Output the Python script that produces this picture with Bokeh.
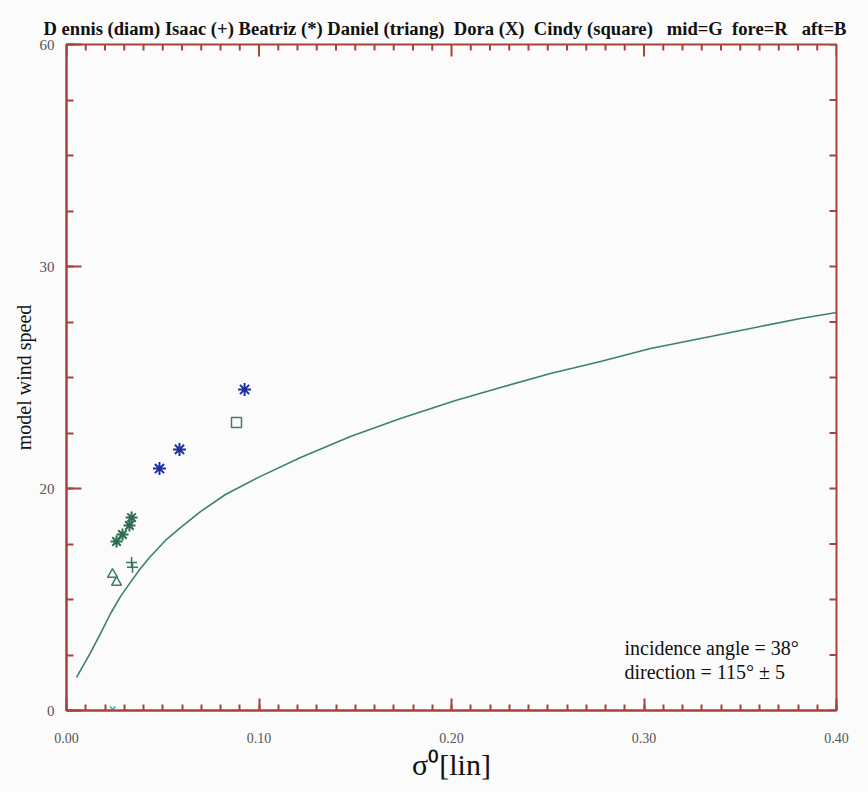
import math
from bokeh.plotting import figure
from bokeh.models import Range1d, LinearAxis, FixedTicker, Label, Title
from bokeh.embed import file_html
from bokeh.resources import INLINE

# ---- data ----
curve_x = [0.0052, 0.0125, 0.0177, 0.0229, 0.0281, 0.0332, 0.0384, 0.0436, 0.0514, 0.0592, 0.0696,
           0.0826, 0.0997, 0.1216, 0.1475, 0.1735, 0.2021, 0.2255, 0.2514, 0.2774, 0.3034, 0.3294,
           0.3553, 0.3813, 0.4000]
curve_y = [1.49, 2.61, 3.47, 4.37, 5.14, 5.77, 6.40, 6.94, 7.66, 8.24, 8.96,
           9.73, 10.50, 11.40, 12.34, 13.15, 13.96, 14.55, 15.18, 15.72, 16.31, 16.76,
           17.21, 17.66, 17.93]

beatriz_aft_x = [0.0925, 0.0587, 0.0483]
beatriz_aft_y = [14.46, 11.76, 10.9]
beatriz_mid_x = [0.0338, 0.0327, 0.0291, 0.0260]
beatriz_mid_y = [8.69, 8.33, 7.93, 7.61]
isaac_x = [0.0338, 0.0343]
isaac_y = [6.67, 6.45]
daniel_x = [0.0239, 0.0260]
daniel_y = [6.13, 5.77]
cindy_x = [0.0883]
cindy_y = [12.97]
dora_x = [0.0240]
dora_y = [0.05]

x_ticks = [0.0, 0.1, 0.2, 0.3, 0.4]
x_tick_labels = ["0.00", "0.10", "0.20", "0.30", "0.40"]
y_ticks = [0, 10, 20, 30]
y_tick_labels = ["0", "20", "30", "60"]

NB = "\u00a0"
title_parts = ["D ennis (diam)", "Isaac (+)", "Beatriz (*)", "Daniel (triang)", "Dora (X)",
               "Cindy (square)", "mid=G", "fore=R", "aft=B"]
title_gaps = [" ", " ", " ", NB + " ", NB + " ", NB * 2 + " ", NB + " ", NB * 2 + " "]
title_text = title_parts[0] + "".join(g + t for g, t in zip(title_gaps, title_parts[1:]))

AX = "#a8433b"
SERIF = "Liberation Serif"
X0, X1, Y0, Y1 = 0.0, 0.4, 0.0, 30.0

p = figure(width=868, height=792, output_backend="svg", toolbar_location=None,
           x_range=Range1d(X0, X1), y_range=Range1d(Y0, Y1),
           min_border_left=66, min_border_right=32, min_border_top=44, min_border_bottom=82,
           x_axis_location=None, y_axis_location=None)
p.title.visible = False
p.background_fill_color = "#fbfbfb"
p.border_fill_color = "#fbfbfb"
p.outline_line_color = AX
p.outline_line_width = 2
p.xgrid.visible = False
p.ygrid.visible = False

x_minor = [round(X0 + i * 0.01, 2) for i in range(41)]
y_minor = [Y0 + i * 2.5 for i in range(13)]

def style(ax):
    ax.axis_line_color = AX
    ax.axis_line_width = 2
    ax.major_tick_line_color = AX
    ax.minor_tick_line_color = AX
    ax.major_tick_line_width = 2
    ax.minor_tick_line_width = 2
    ax.major_tick_out = 0
    ax.minor_tick_out = 0

# bottom
xb = LinearAxis(ticker=FixedTicker(ticks=x_ticks, minor_ticks=x_minor))
style(xb)
xb.major_tick_in = 12
xb.minor_tick_in = 6
xb.major_label_overrides = {t: l for t, l in zip(x_ticks, x_tick_labels)}
xb.major_label_text_font = SERIF
xb.major_label_text_font_size = "14px"
xb.major_label_text_color = "#555555"
xb.major_label_standoff = 22
xb.axis_label = "σ⁰[lin]"
xb.axis_label_text_font = SERIF
xb.axis_label_text_font_size = "30px"
xb.axis_label_text_font_style = "normal"
xb.axis_label_text_color = "#111111"
xb.axis_label_standoff = 2
p.add_layout(xb, "below")

# left
yl = LinearAxis(ticker=FixedTicker(ticks=y_ticks, minor_ticks=y_minor))
style(yl)
yl.major_tick_in = 15
yl.minor_tick_in = 7
yl.major_label_overrides = {t: l for t, l in zip(y_ticks, y_tick_labels)}
yl.major_label_text_font = SERIF
yl.major_label_text_font_size = "15px"
yl.major_label_text_color = "#555555"
yl.major_label_standoff = 12
yl.axis_label = "model wind speed"
yl.axis_label_text_font = SERIF
yl.axis_label_text_font_size = "20px"
yl.axis_label_text_font_style = "normal"
yl.axis_label_text_color = "#111111"
yl.axis_label_standoff = 2
p.add_layout(yl, "left")

# top and right tick marks (inward), drawn as dash markers centred on the frame edge
top_major = [t for t in x_ticks]
top_minor = [t for t in x_minor if t not in x_ticks]
p.scatter(top_minor, [Y1] * len(top_minor), marker="dash", angle=math.pi / 2, size=12,
          line_color=AX, line_width=2)
p.scatter(top_major, [Y1] * len(top_major), marker="dash", angle=math.pi / 2, size=24,
          line_color=AX, line_width=2)
p.scatter([X1] * len(y_minor), y_minor, marker="dash", size=14, line_color=AX, line_width=2)

# curve
p.line(curve_x, curve_y, line_color="#3d7f75", line_width=1.6)

# markers
p.scatter(beatriz_aft_x, beatriz_aft_y, marker="asterisk", size=13, line_color="#1f2f9f", line_width=2)
p.scatter(beatriz_mid_x, beatriz_mid_y, marker="asterisk", size=12, line_color="#2d6b52", line_width=2)
p.scatter(isaac_x, isaac_y, marker="cross", size=11, line_color="#3a7565", line_width=1.5)
p.scatter(daniel_x, daniel_y, marker="triangle", size=10, line_color="#3f7d6a", fill_color=None, line_width=1.5)
p.scatter(cindy_x, cindy_y, marker="square", size=10, line_color="#4a7a6a", fill_color=None, line_width=1.5)
p.scatter(dora_x, dora_y, marker="x", size=8, line_color="#4aa3a3", line_width=1.5)

# title
p.add_layout(Title(text=title_text, text_font=SERIF, text_font_style="bold", text_font_size="18.6px",
                   text_color="#111111", align="left", offset=-23, standoff=11), "above")

# annotation
p.add_layout(Label(x=558, y=63, x_units="screen", y_units="screen", text="incidence angle = 38°",
                   text_font=SERIF, text_font_size="20px", text_color="#111111", text_baseline="middle"))
p.add_layout(Label(x=558, y=39, x_units="screen", y_units="screen", text="direction = 115° ± 5",
                   text_font=SERIF, text_font_size="20px", text_color="#111111", text_baseline="middle"))

open("out.html", "w").write(file_html(p, INLINE))
